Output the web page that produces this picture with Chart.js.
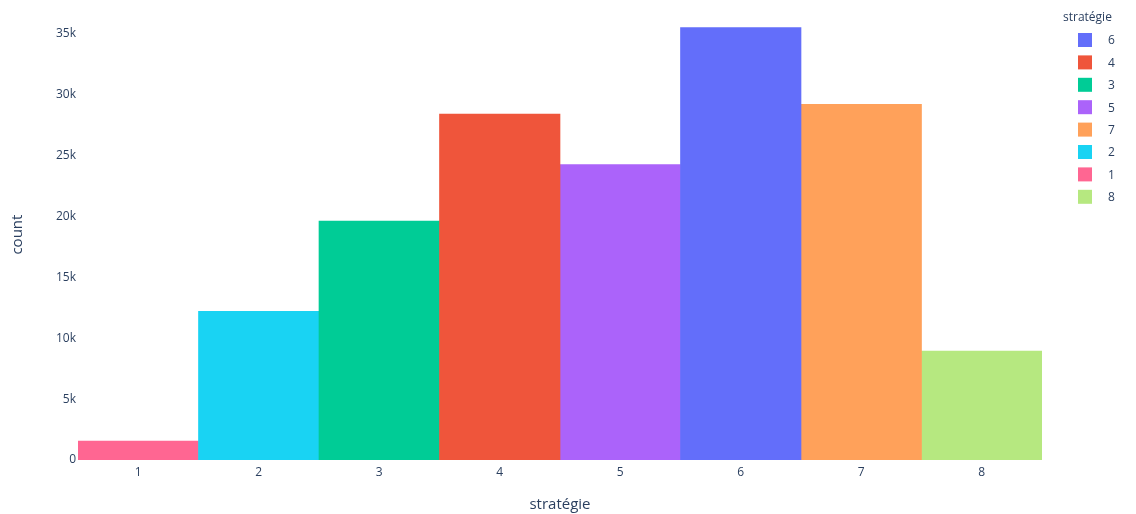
<!DOCTYPE html>
<html>
<head>
<meta charset="utf-8">
<script src="https://cdn.jsdelivr.net/npm/chart.js@4"></script>
<style>
  html, body { margin: 0; padding: 0; background: #ffffff; }
  #wrap { position: relative; width: 1136px; height: 514px; }
</style>
</head>
<body>
<div id="wrap"><canvas id="chart" width="1136" height="514"></canvas></div>
<script>
// Strategy categories on the x axis and the count for each one
const categories = ['1', '2', '3', '4', '5', '6', '7', '8'];
const counts = [1550, 12200, 19600, 28400, 24250, 35500, 29200, 8950];

// Order in which the strategies appear in the legend, with their colours
const legendOrder = ['6', '4', '3', '5', '7', '2', '1', '8'];
const legendColors = ['#636EFA', '#EF553B', '#00CC96', '#AB63FA', '#FFA15A', '#19D3F3', '#FF6692', '#B6E880'];

// Y axis ticks
const yTickValues = [0, 5000, 10000, 15000, 20000, 25000, 30000, 35000];
const yTickLabels = ['0', '5k', '10k', '15k', '20k', '25k', '30k', '35k'];

const textColor = '#2a3f5f';
const fontFamily = '"Open Sans", "Noto Sans", sans-serif';

// One dataset per strategy, each filling only its own category
const datasets = legendOrder.map((name, i) => {
  const idx = categories.indexOf(name);
  return {
    label: name,
    data: categories.map((c, j) => (j === idx ? counts[j] : null)),
    backgroundColor: legendColors[i],
    borderWidth: 0,
    barPercentage: 1,
    categoryPercentage: 1,
    grouped: false
  };
});

// Legend drawn to the right of the plot: title then a swatch per strategy
const sideLegend = {
  id: 'sideLegend',
  afterDraw(chart) {
    const ctx = chart.ctx;
    ctx.save();
    ctx.fillStyle = textColor;
    ctx.font = '12px ' + fontFamily;
    ctx.textBaseline = 'middle';
    ctx.textAlign = 'left';
    ctx.fillText('stratégie', 1063, 18);
    chart.data.datasets.forEach((ds, i) => {
      const cy = 40 + i * 22.4;
      ctx.fillStyle = ds.backgroundColor;
      ctx.fillRect(1078, cy - 7, 14, 14);
      ctx.fillStyle = textColor;
      ctx.fillText(ds.label, 1108, cy + 1);
    });
    ctx.restore();
  }
};

new Chart(document.getElementById('chart'), {
  type: 'bar',
  data: { labels: categories, datasets },
  options: {
    responsive: false,
    animation: false,
    layout: { padding: { left: 0, right: 94, top: 4, bottom: 0 } },
    plugins: {
      legend: { display: false },
      tooltip: { enabled: false }
    },
    scales: {
      x: {
        grid: { display: false, drawTicks: false },
        border: { display: false },
        ticks: {
          color: textColor,
          font: { family: fontFamily, size: 12 },
          padding: 5,
          maxRotation: 0
        },
        title: {
          display: true,
          text: 'stratégie',
          color: textColor,
          font: { family: fontFamily, size: 15 },
          padding: { top: 10, bottom: 0 }
        },
        afterFit(scale) { scale.height = 54; }
      },
      y: {
        min: 0,
        max: 37000,
        grid: { display: false, drawTicks: false },
        border: { display: false },
        afterBuildTicks(scale) {
          scale.ticks = yTickValues.map(v => ({ value: v }));
        },
        ticks: {
          color: textColor,
          font: { family: fontFamily, size: 12 },
          padding: 2,
          callback(value) {
            const k = yTickValues.indexOf(value);
            return k >= 0 ? yTickLabels[k] : '';
          }
        },
        title: {
          display: true,
          text: 'count',
          color: textColor,
          font: { family: fontFamily, size: 15 },
          padding: { top: 9, bottom: 0 }
        },
        afterFit(scale) { scale.width = 78; }
      }
    }
  },
  plugins: [sideLegend]
});
</script>
</body>
</html>
